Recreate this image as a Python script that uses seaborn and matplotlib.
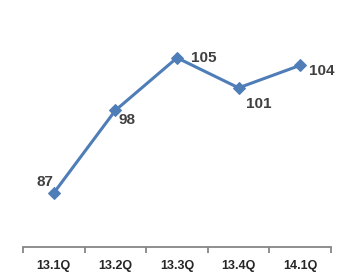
import matplotlib
matplotlib.use("Agg")
import matplotlib.pyplot as plt
import seaborn as sns
import pandas as pd

quarters = ["13.1Q", "13.2Q", "13.3Q", "13.4Q", "14.1Q"]
values = [87, 98, 105, 101, 104]
label_offsets = [(-9, 11), (12, -10), (27, 0), (20, -16), (22, -6)]

sns.set_theme(style="white")
plt.rcParams['font.family'] = ['Liberation Sans', 'DejaVu Sans']

fig = plt.figure(figsize=(3.56, 2.75), dpi=100)
ax = fig.add_axes([23/356, 28/275, 308/356, 247/275])

df = pd.DataFrame({"q": quarters, "v": values})
sns.lineplot(data=df, x="q", y="v", ax=ax, color="#4F7DB8", linewidth=2.2,
             marker="D", markersize=6, markeredgecolor="#4F7DB8")

for i, (v, off) in enumerate(zip(values, label_offsets)):
    ax.annotate(str(v), (i, v), xytext=off, textcoords="offset pixels",
                ha="center", va="center", fontsize=11, fontweight="bold",
                color="#404040")

ax.set_xlim(-0.5, 4.5)
ax.set_ylim(79.8, 112.7)
ax.set_xlabel("")
ax.set_ylabel("")
ax.set_yticks([])
for s in ["top", "right", "left"]:
    ax.spines[s].set_visible(False)
ax.spines["bottom"].set_color("#868686")
ax.spines["bottom"].set_linewidth(1.3)

ax.set_xticks([i - 0.5 for i in range(6)])
ax.set_xticklabels([])
ax.tick_params(axis="x", which="major", direction="out", length=4, width=1.3,
               color="#868686", bottom=True)
ax.set_xticks(list(range(5)), minor=True)
ax.set_xticklabels(quarters, minor=True)
ax.tick_params(axis="x", which="minor", length=0, pad=9.5, labelsize=9,
               labelcolor="#262626")
for t in ax.get_xticklabels(minor=True):
    t.set_fontweight("bold")

fig.savefig("out.png", dpi=100)
